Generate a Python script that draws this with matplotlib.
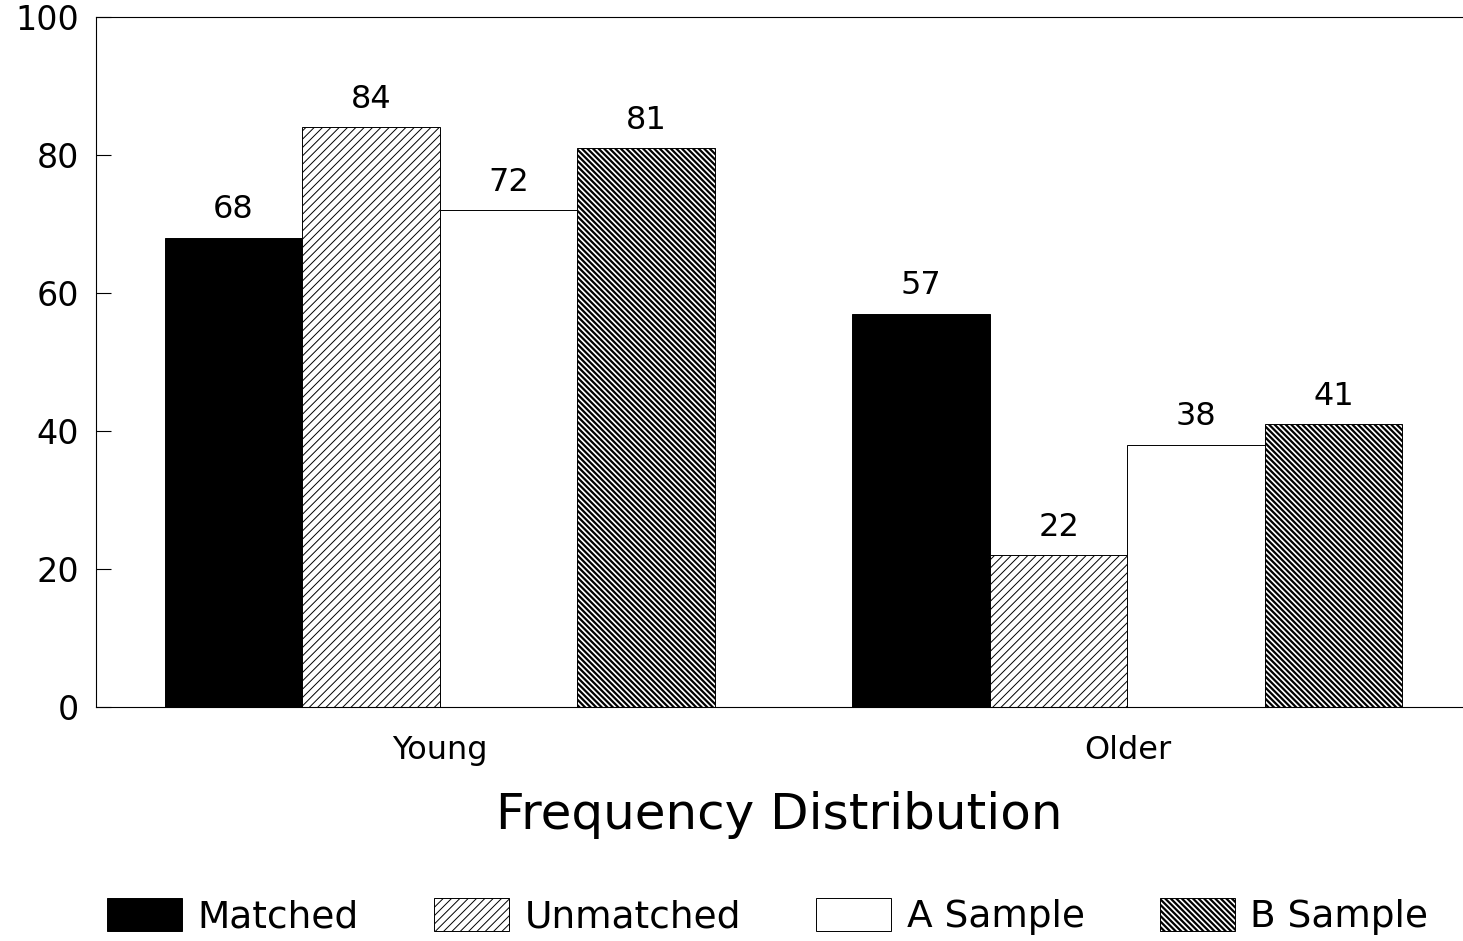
import matplotlib.pyplot as plt
import numpy as np

# --- Data ---
groups = ["Young", "Older"]
series = ["Matched", "Unmatched", "A Sample", "B Sample"]
matched = [68, 57]
unmatched = [84, 22]
a_sample = [72, 38]
b_sample = [81, 41]

plt.rcParams['font.family'] = ['DejaVu Sans']
plt.rcParams['hatch.color'] = 'black'

fig = plt.figure(figsize=(14.63, 9.41), dpi=100)
ax = fig.add_axes([0.0656, 0.2487, 0.9344, 0.7333])

x = np.arange(len(groups))
width = 0.2
values = [matched, unmatched, a_sample, b_sample]
faces = ['black', 'white', 'white', 'white']
hatches = [None, '////', None, '\\\\\\\\\\\\']
hatch_lw = [1.0, 0.7, 1.0, 1.6]

for i, (vals, name) in enumerate(zip(values, series)):
    offset = (i - 1.5) * width
    with plt.rc_context({'hatch.linewidth': hatch_lw[i]}):
        bars = ax.bar(x + offset, vals, width, label=name, color=faces[i],
                      edgecolor='black', linewidth=0.7, hatch=hatches[i])
        for b in bars:
            if hasattr(b, 'set_hatch_linewidth'):
                b.set_hatch_linewidth(hatch_lw[i])
    ax.bar_label(bars, padding=9, fontsize=23)

ax.set_xlim(-0.5, 1.488)
ax.set_ylim(0, 100)
ax.set_yticks([0, 20, 40, 60, 80, 100])
ax.tick_params(axis='y', direction='in', length=11, width=0.8, labelsize=24, pad=12)
ax.tick_params(axis='x', length=0, labelsize=23, pad=20)
ax.set_xticks(x)
ax.set_xticklabels(groups)
ax.set_xlabel("Frequency Distribution", fontsize=36, labelpad=18)

for side in ['left', 'top', 'bottom']:
    ax.spines[side].set_linewidth(0.8)
ax.spines['right'].set_visible(False)

leg = fig.legend(loc='lower center', bbox_to_anchor=(0.5246, -0.03), ncol=4, frameon=False,
                 fontsize=27, handlelength=2.0, handleheight=1.0, handletextpad=0.42,
                 columnspacing=2.0)
for h, lw in zip(leg.legend_handles, hatch_lw):
    if hasattr(h, 'set_hatch_linewidth'):
        h.set_hatch_linewidth(lw)

fig.savefig("out.png", dpi=100)
